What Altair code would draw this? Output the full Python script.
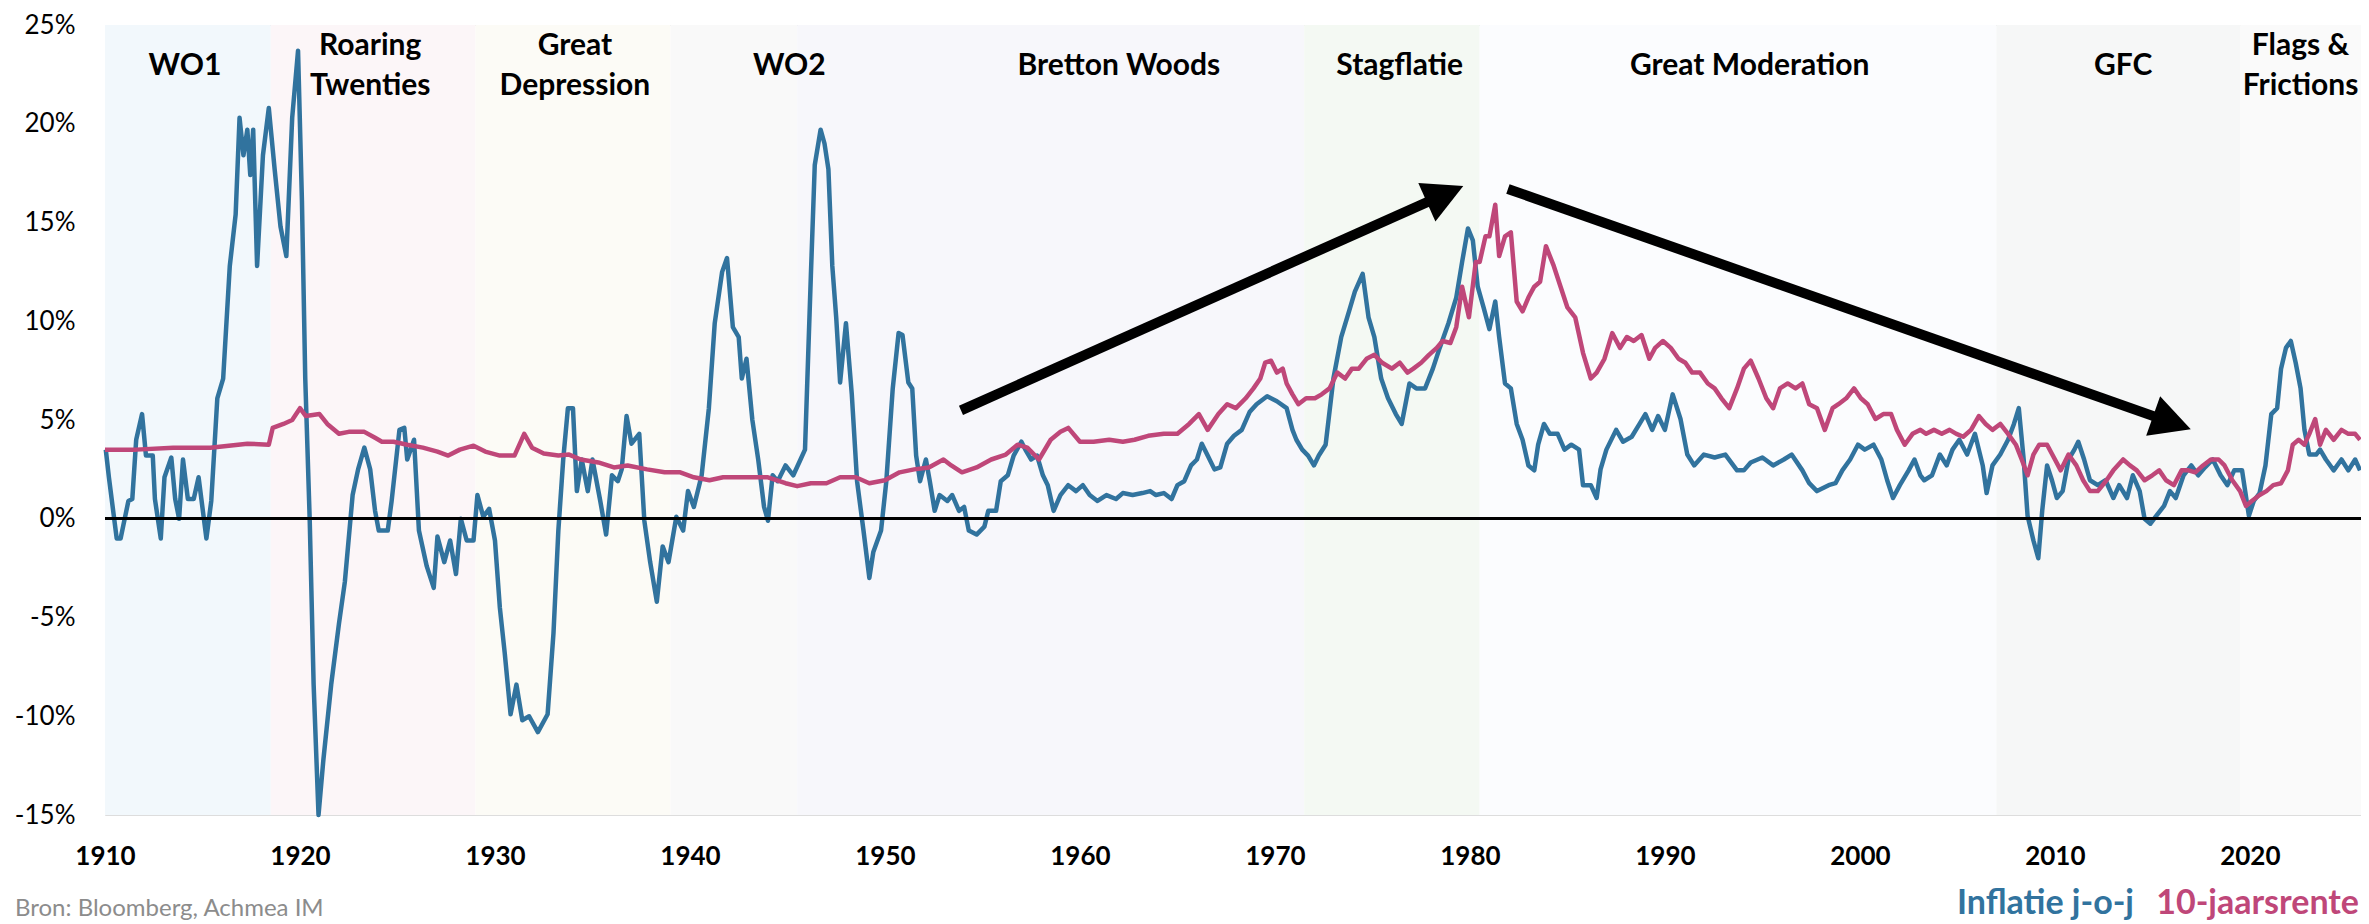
import math
import altair as alt
import pandas as pd

# ---------------- data ----------------
infl_year = [1910.04, 1910.2, 1910.6, 1910.8, 1911.2, 1911.4, 1911.6, 1911.9, 1912.1, 1912.45, 1912.56, 1912.86,
             1913.05, 1913.4, 1913.6, 1913.8, 1914.0, 1914.25, 1914.55, 1914.8, 1915.2, 1915.45, 1915.76, 1916.06,
             1916.4, 1916.7, 1916.9, 1917.1, 1917.3, 1917.45, 1917.6, 1917.8, 1918.1, 1918.4, 1918.7, 1919.0,
             1919.3, 1919.6, 1919.9, 1920.1, 1920.27, 1920.5, 1920.7, 1920.95, 1921.2, 1921.6, 1922.0, 1922.3,
             1922.7, 1922.98, 1923.3, 1923.6, 1923.85, 1924.04, 1924.5, 1924.7, 1925.1, 1925.35, 1925.5, 1925.85,
             1926.1, 1926.5, 1926.86, 1927.05, 1927.4, 1927.7, 1928.0, 1928.25, 1928.55, 1928.9, 1929.1, 1929.4,
             1929.7, 1930.0, 1930.25, 1930.5, 1930.8, 1931.1, 1931.4, 1931.75, 1932.2, 1932.7, 1933.0, 1933.25,
             1933.5, 1933.74, 1934.0, 1934.2, 1934.45, 1934.76, 1935.0, 1935.4, 1935.7, 1936.0, 1936.3, 1936.5,
             1936.75, 1937.0, 1937.4, 1937.66, 1937.96, 1938.3, 1938.6, 1938.9, 1939.3, 1939.65, 1939.9, 1940.2,
             1940.6, 1940.97, 1941.27, 1941.65, 1941.9, 1942.2, 1942.5, 1942.66, 1942.9, 1943.2, 1943.5, 1943.8,
             1944.0, 1944.24, 1944.5, 1944.9, 1945.3, 1945.67, 1945.9, 1946.2, 1946.4, 1946.7, 1946.9, 1947.1,
             1947.3, 1947.5, 1947.7, 1948.0, 1948.3, 1948.57, 1948.9, 1949.2, 1949.4, 1949.8, 1950.07, 1950.4,
             1950.7, 1950.9, 1951.2, 1951.4, 1951.6, 1951.8, 1952.1, 1952.3, 1952.55, 1952.8, 1953.2, 1953.45,
             1953.8, 1954.06, 1954.3, 1954.7, 1955.1, 1955.3, 1955.7, 1955.94, 1956.3, 1956.6, 1957.0, 1957.2,
             1957.5, 1957.8, 1958.1, 1958.35, 1958.65, 1959.0, 1959.4, 1959.8, 1960.15, 1960.5, 1960.9, 1961.36,
             1961.85, 1962.2, 1962.7, 1963.2, 1963.6, 1963.9, 1964.3, 1964.7, 1965.0, 1965.35, 1965.7, 1966.0,
             1966.25, 1966.55, 1966.9, 1967.2, 1967.55, 1967.9, 1968.3, 1968.7, 1969.06, 1969.6, 1970.1, 1970.6,
             1970.9, 1971.1, 1971.4, 1971.7, 1972.0, 1972.25, 1972.6, 1973.0, 1973.4, 1973.8, 1974.1, 1974.5,
             1974.8, 1975.1, 1975.45, 1975.8, 1976.2, 1976.5, 1976.9, 1977.25, 1977.7, 1978.1, 1978.45, 1978.9,
             1979.3, 1979.6, 1979.9, 1980.15, 1980.4, 1980.7, 1981.0, 1981.3, 1981.5, 1981.8, 1982.1, 1982.4,
             1982.7, 1983.0, 1983.3, 1983.5, 1983.8, 1984.1, 1984.5, 1984.85, 1985.2, 1985.6, 1985.8, 1986.2,
             1986.5, 1986.7, 1987.0, 1987.5, 1987.85, 1988.3, 1988.7, 1989.0, 1989.35, 1989.65, 1990.0, 1990.4,
             1990.8, 1991.15, 1991.5, 1992.0, 1992.55, 1993.1, 1993.7, 1994.05, 1994.4, 1995.0, 1995.55, 1996.1,
             1996.5, 1997.05, 1997.4, 1997.8, 1998.4, 1998.75, 1999.1, 1999.5, 1999.9, 2000.25, 2000.7, 2001.1,
             2001.4, 2001.7, 2002.05, 2002.5, 2002.8, 2003.1, 2003.3, 2003.7, 2004.1, 2004.45, 2004.75, 2005.1,
             2005.5, 2005.9, 2006.3, 2006.5, 2006.8, 2007.2, 2007.6, 2007.9, 2008.15, 2008.4, 2008.6, 2008.9,
             2009.15, 2009.35, 2009.6, 2009.85, 2010.1, 2010.4, 2010.7, 2011.0, 2011.2, 2011.5, 2011.8, 2012.2,
             2012.6, 2013.0, 2013.3, 2013.7, 2014.0, 2014.35, 2014.6, 2014.9, 2015.2, 2015.6, 2015.9, 2016.2,
             2016.6, 2017.0, 2017.35, 2017.7, 2018.1, 2018.5, 2018.85, 2019.2, 2019.6, 2019.95, 2020.2, 2020.5,
             2020.8, 2021.1, 2021.4, 2021.6, 2021.85, 2022.1, 2022.35, 2022.6, 2022.8, 2023.05, 2023.4, 2023.6,
             2023.9, 2024.3, 2024.7, 2025.05, 2025.4, 2025.65]
infl_val = [3.5, 2.1, -1.0, -1.0, 0.9, 1.0, 4.0, 5.3, 3.2, 3.2, 1.0, -1.0,
            2.1, 3.1, 1.0, 0.0, 3.0, 1.0, 1.0, 2.1, -1.0, 0.9, 6.1, 7.1,
            12.8, 15.4, 20.3, 18.4, 19.7, 17.4, 19.7, 12.8, 18.4, 20.8, 17.7, 14.8,
            13.3, 20.3, 23.7, 16.1, 7.1, -0.1, -8.4, -15.0, -12.2, -8.4, -5.3, -3.2,
            1.2, 2.5, 3.6, 2.5, 0.4, -0.6, -0.6, 0.9, 4.5, 4.6, 3.0, 4.0,
            -0.6, -2.4, -3.5, -0.9, -2.2, -1.1, -2.8, 0.0, -1.1, -1.1, 1.2, 0.1,
            0.5, -1.1, -4.5, -6.8, -9.9, -8.4, -10.2, -10.0, -10.8, -9.9, -5.8, -0.6,
            3.0, 5.6, 5.6, 1.4, 3.0, 1.4, 3.0, 0.9, -0.8, 2.2, 1.9, 2.5,
            5.2, 3.8, 4.3, -0.1, -2.2, -4.2, -1.4, -2.2, 0.1, -0.6, 1.4, 0.6,
            2.2, 5.6, 9.9, 12.5, 13.2, 9.7, 9.2, 7.1, 8.1, 5.0, 3.0, 0.6,
            -0.1, 2.2, 1.9, 2.7, 2.2, 3.0, 3.5, 12.3, 17.9, 19.7, 19.0, 17.7,
            12.8, 10.2, 6.9, 9.9, 6.3, 1.9, -0.6, -3.0, -1.7, -0.6, 1.9, 6.6,
            9.4, 9.3, 6.9, 6.6, 3.2, 1.9, 3.0, 1.9, 0.4, 1.2, 0.9, 1.2,
            0.4, 0.6, -0.6, -0.8, -0.4, 0.4, 0.4, 1.9, 2.2, 3.2, 3.9, 3.5,
            3.0, 3.2, 2.2, 1.7, 0.4, 1.2, 1.7, 1.4, 1.7, 1.2, 0.9, 1.2,
            1.0, 1.3, 1.2, 1.3, 1.4, 1.2, 1.3, 1.0, 1.7, 1.9, 2.7, 3.0,
            3.8, 3.2, 2.5, 2.6, 3.8, 4.2, 4.5, 5.4, 5.8, 6.2, 5.95, 5.6,
            4.5, 4.0, 3.5, 3.2, 2.7, 3.2, 3.75, 7.1, 9.2, 10.5, 11.5, 12.4,
            10.2, 9.2, 7.1, 6.1, 5.3, 4.8, 6.85, 6.6, 6.6, 7.6, 8.65, 9.9,
            11.2, 13.0, 14.7, 14.1, 11.75, 10.7, 9.6, 11.0, 9.2, 6.85, 6.6, 4.8,
            4.0, 2.7, 2.45, 3.75, 4.8, 4.3, 4.3, 3.5, 3.75, 3.5, 1.7, 1.7,
            1.05, 2.5, 3.5, 4.5, 3.9, 4.15, 4.8, 5.3, 4.5, 5.2, 4.5, 6.3,
            5.05, 3.25, 2.7, 3.25, 3.1, 3.25, 2.45, 2.45, 2.85, 3.1, 2.7, 3.0,
            3.25, 2.45, 1.8, 1.4, 1.7, 1.8, 2.45, 3.0, 3.75, 3.5, 3.75, 3.0,
            1.95, 1.05, 1.7, 2.45, 3.0, 2.2, 1.95, 2.2, 3.25, 2.7, 3.5, 4.0,
            3.25, 4.3, 2.7, 1.3, 2.7, 3.25, 4.0, 4.8, 5.6, 3.0, 0.15, -1.1,
            -2.0, 0.4, 2.7, 1.95, 1.05, 1.4, 3.0, 3.5, 3.9, 3.0, 1.95, 1.7,
            1.95, 1.05, 1.7, 1.05, 2.2, 1.4, 0.0, -0.25, 0.15, 0.65, 1.4, 1.05,
            2.2, 2.7, 2.2, 2.6, 3.0, 2.2, 1.7, 2.45, 2.45, 0.15, 0.9, 1.3,
            2.7, 5.3, 5.6, 7.6, 8.65, 9.0, 7.9, 6.6, 4.5, 3.25, 3.25, 3.5,
            3.0, 2.45, 3.0, 2.45, 3.0, 2.45]

rate_year = [1910.0, 1911.6, 1913.5, 1915.4, 1917.3, 1918.4, 1918.6, 1919.15, 1919.6, 1920.0, 1920.3, 1921.0,
             1921.4, 1922.0, 1922.5, 1923.3, 1923.85, 1924.2, 1924.8, 1925.5, 1926.3, 1927.05, 1927.6, 1928.2,
             1928.9, 1929.5, 1930.25, 1931.0, 1931.5, 1931.9, 1932.5, 1933.25, 1933.8, 1934.4, 1935.3, 1936.1,
             1936.8, 1937.8, 1938.7, 1939.5, 1940.2, 1941.0, 1941.7, 1942.85, 1944.0, 1944.9, 1945.5, 1946.2,
             1947.0, 1947.7, 1948.5, 1949.2, 1950.0, 1950.75, 1951.5, 1952.25, 1953.0, 1953.4, 1953.95, 1954.7,
             1955.45, 1956.2, 1956.8, 1957.3, 1957.9, 1958.5, 1959.0, 1959.4, 1960.0, 1960.7, 1961.5, 1962.2,
             1962.8, 1963.5, 1964.3, 1965.0, 1965.6, 1966.1, 1966.55, 1967.1, 1967.55, 1968.0, 1968.5, 1968.9,
             1969.25, 1969.5, 1969.8, 1970.1, 1970.4, 1970.6, 1970.9, 1971.2, 1971.6, 1972.05, 1972.4, 1972.8,
             1973.2, 1973.6, 1973.95, 1974.3, 1974.7, 1975.1, 1975.5, 1976.0, 1976.4, 1976.8, 1977.1, 1977.5,
             1977.9, 1978.3, 1978.6, 1979.0, 1979.3, 1979.6, 1979.95, 1980.3, 1980.5, 1980.8, 1981.0, 1981.3,
             1981.5, 1981.8, 1982.1, 1982.4, 1982.7, 1983.0, 1983.3, 1983.6, 1983.9, 1984.3, 1984.65, 1985.0,
             1985.4, 1985.8, 1986.2, 1986.5, 1986.9, 1987.3, 1987.7, 1988.05, 1988.4, 1988.8, 1989.2, 1989.5,
             1989.9, 1990.3, 1990.7, 1991.05, 1991.4, 1991.8, 1992.2, 1992.55, 1992.9, 1993.3, 1993.7, 1994.05,
             1994.4, 1994.8, 1995.2, 1995.55, 1995.9, 1996.3, 1996.7, 1997.05, 1997.4, 1997.8, 1998.2, 1998.6,
             1998.9, 1999.3, 1999.7, 2000.05, 2000.4, 2000.8, 2001.2, 2001.6, 2001.9, 2002.3, 2002.7, 2003.1,
             2003.4, 2003.8, 2004.2, 2004.6, 2004.95, 2005.3, 2005.7, 2006.1, 2006.45, 2006.8, 2007.2, 2007.6,
             2008.0, 2008.3, 2008.6, 2008.9, 2009.2, 2009.6, 2009.95, 2010.3, 2010.7, 2011.1, 2011.45, 2011.8,
             2012.2, 2012.65, 2013.0, 2013.5, 2013.85, 2014.2, 2014.6, 2015.0, 2015.35, 2015.7, 2016.1, 2016.5,
             2016.85, 2017.2, 2017.6, 2018.0, 2018.4, 2018.7, 2019.1, 2019.5, 2019.8, 2020.1, 2020.5, 2020.85,
             2021.2, 2021.6, 2021.95, 2022.2, 2022.5, 2022.8, 2023.05, 2023.35, 2023.6, 2023.9, 2024.3, 2024.7,
             2025.05, 2025.4, 2025.65]
rate_val = [3.5, 3.5, 3.6, 3.6, 3.8, 3.75, 4.6, 4.8, 5.0, 5.6, 5.2, 5.3,
            4.8, 4.3, 4.4, 4.4, 4.1, 3.9, 3.9, 3.75, 3.6, 3.4, 3.2, 3.5,
            3.7, 3.4, 3.2, 3.2, 4.3, 3.6, 3.3, 3.2, 3.25, 3.0, 2.85, 2.6,
            2.7, 2.5, 2.35, 2.35, 2.1, 1.95, 2.1, 2.1, 2.1, 1.8, 1.65, 1.8,
            1.8, 2.1, 2.1, 1.8, 1.95, 2.35, 2.5, 2.6, 3.0, 2.7, 2.35, 2.6,
            3.0, 3.25, 3.75, 3.6, 3.0, 4.0, 4.4, 4.6, 3.9, 3.9, 4.0, 3.9,
            4.0, 4.2, 4.3, 4.3, 4.8, 5.3, 4.5, 5.3, 5.8, 5.6, 6.1, 6.6,
            7.1, 7.9, 8.0, 7.4, 7.6, 6.85, 6.3, 5.8, 6.1, 6.1, 6.3, 6.6,
            7.4, 7.1, 7.6, 7.6, 8.1, 8.3, 7.9, 7.6, 7.9, 7.4, 7.6, 7.9,
            8.3, 8.65, 9.0, 8.9, 9.7, 11.75, 10.2, 13.0, 13.0, 14.3, 14.3, 15.9,
            13.3, 14.3, 14.5, 11.0, 10.5, 11.2, 11.75, 12.0, 13.8, 12.8, 11.75, 10.7,
            10.2, 8.4, 7.1, 7.4, 8.1, 9.4, 8.65, 9.2, 9.0, 9.3, 8.1, 8.65,
            9.0, 8.65, 8.1, 7.9, 7.4, 7.4, 6.85, 6.6, 6.1, 5.6, 6.6, 7.6,
            8.0, 7.1, 6.1, 5.6, 6.6, 6.85, 6.6, 6.85, 5.8, 5.6, 4.5, 5.6,
            5.8, 6.1, 6.6, 6.1, 5.8, 5.05, 5.3, 5.3, 4.5, 3.75, 4.3, 4.5,
            4.3, 4.5, 4.3, 4.5, 4.3, 4.15, 4.5, 5.2, 4.8, 4.5, 4.8, 4.3,
            3.75, 3.0, 2.2, 3.25, 3.75, 3.75, 3.1, 2.45, 3.25, 2.7, 1.95, 1.4,
            1.4, 1.95, 2.45, 3.0, 2.7, 2.45, 1.95, 2.2, 2.45, 1.95, 1.7, 2.45,
            2.45, 2.35, 2.7, 3.0, 3.0, 2.7, 1.95, 1.4, 0.65, 0.9, 1.2, 1.4,
            1.7, 1.8, 2.45, 3.75, 4.0, 3.75, 4.3, 5.05, 3.75, 4.5, 4.0, 4.5,
            4.3, 4.3, 4.0]

periods = ["WO1", "Roaring\nTwenties", "Great\nDepression", "WO2", "Bretton Woods",
           "Stagflatie", "Great Moderation", "GFC", "Flags &\nFrictions"]
period_mid = [1914.1, 1923.6, 1934.1, 1945.1, 1962.0, 1976.4, 1994.35, 2013.5, 2022.6]
band_start = [1910.0, 1918.5, 1929.0, 1939.0, 1945.5, 1971.5, 1980.5, 2007.0, 2019.5]
band_end = [1918.5, 1929.0, 1939.0, 1945.5, 1971.5, 1980.5, 2007.0, 2019.5, 2025.7]
band_color = ["#F2F8FC", "#FCF6F8", "#FCFBF6", "#F9F9F9", "#F7F7FB",
              "#F4F9F3", "#FBFCFE", "#F6F7F7", "#FAFAFA"]

arrow_x0 = [1953.9, 1981.95]
arrow_y0 = [5.49, 16.7]
arrow_x1 = [1979.66, 2016.97]
arrow_y1 = [16.85, 4.53]

x_ticks = list(range(1910, 2030, 10))
y_ticks = list(range(-15, 30, 5))

BLUE = "#31739E"
PINK = "#BF4779"
FONT = "Lato"

# ---------------- layout ----------------
W, H = 2256, 790
XMIN, XMAX = 1910.0, 2025.7
YMIN, YMAX = -15.0, 25.0

xs = alt.Scale(domain=[XMIN, XMAX], nice=False, zero=False)
ys = alt.Scale(domain=[YMIN, YMAX], nice=False, zero=False)

lines_df = pd.concat([
    pd.DataFrame({"year": infl_year, "val": infl_val, "series": "Inflatie j-o-j"}),
    pd.DataFrame({"year": rate_year, "val": rate_val, "series": "10-jaarsrente"}),
])

bands_df = pd.DataFrame({"s": band_start, "e": band_end, "c": band_color})

# label block: single lines centred at 22.9 %, two-line blocks start a bit higher
labels_df = pd.DataFrame({"label": periods, "mid": period_mid})
labels_df["ly"] = [22.9 + 1.05 * (lbl.count("\n")) for lbl in periods]

# arrows: shaft ends a little before the tip so the head stays sharp
ppy = W / (XMAX - XMIN)
ppp = H / (YMAX - YMIN)
rows = []
for x0, y0, x1, y1 in zip(arrow_x0, arrow_y0, arrow_x1, arrow_y1):
    dxp = (x1 - x0) * ppy
    dyp = -(y1 - y0) * ppp
    L = math.hypot(dxp, dyp)
    ux, uy = dxp / L, dyp / L
    ang = math.degrees(math.atan2(ux, -uy)) % 360
    back = 26
    rows.append({"x0": x0, "y0": y0, "x1": x1, "y1": y1,
                 "xe": x1 - back * ux / ppy, "ye": y1 + back * uy / ppp, "ang": ang})
arrows_df = pd.DataFrame(rows)

bands = alt.Chart(bands_df).mark_rect(opacity=1).encode(
    x=alt.X("s:Q", scale=xs),
    x2="e:Q",
    y=alt.datum(YMAX, scale=ys),
    y2=alt.datum(YMIN),
    color=alt.Color("c:N", scale=None),
)

lines = alt.Chart(lines_df).mark_line(strokeWidth=4.5, strokeJoin="round").encode(
    x=alt.X("year:Q", scale=xs,
            axis=alt.Axis(values=x_ticks, format="d", title=None, grid=False, domain=False,
                          ticks=False, tickSize=0, labelFlush=False, labelOverlap=False,
                          labelFont=FONT, labelFontSize=26, labelFontWeight="bold",
                          labelColor="black", labelPadding=28)),
    y=alt.Y("val:Q", scale=ys,
            axis=alt.Axis(values=y_ticks, labelExpr="datum.value + '%'", title=None, grid=False,
                          domain=False, ticks=False, tickSize=0, labelFlush=False,
                          labelFont=FONT, labelFontSize=26, labelColor="black", labelPadding=30)),
    color=alt.Color("series:N", scale=alt.Scale(domain=["Inflatie j-o-j", "10-jaarsrente"],
                                                range=[BLUE, PINK]), legend=None),
    detail="series:N",
)

zero = alt.Chart(bands_df).mark_rule(color="black", strokeWidth=2.5).encode(
    y=alt.datum(0, scale=ys),
)

shafts = alt.Chart(arrows_df).mark_rule(color="black", strokeWidth=10, strokeCap="butt").encode(
    x=alt.X("x0:Q", scale=xs), y=alt.Y("y0:Q", scale=ys), x2="xe:Q", y2="ye:Q",
)

heads = alt.Chart(arrows_df).mark_point(
    shape="M0,0L-1,1.9L1,1.9Z", filled=True, color="black", opacity=1, size=1764, strokeWidth=0
).encode(
    x=alt.X("x1:Q", scale=xs), y=alt.Y("y1:Q", scale=ys),
    angle=alt.Angle("ang:Q", scale=None),
)

period_text = alt.Chart(labels_df).mark_text(
    font=FONT, fontSize=30, fontWeight="bold", color="black", align="center",
    baseline="middle", lineBreak="\n", lineHeight=40
).encode(
    x=alt.X("mid:Q", scale=xs),
    y=alt.Y("ly:Q", scale=ys),
    text="label:N",
)

legend_df = pd.DataFrame({"t": ["Inflatie j-o-j", "10-jaarsrente"], "c": [BLUE, PINK],
                          "px": [2029, 2254]})
legend_text = alt.Chart(legend_df).mark_text(
    font=FONT, fontSize=34, fontWeight="bold", align="right", baseline="alphabetic"
).encode(
    x=alt.X("px:Q", scale=None),
    y=alt.value(889),
    text="t:N",
    color=alt.Color("c:N", scale=None),
)

source_text = alt.Chart(pd.DataFrame({"t": ["Bron: Bloomberg, Achmea IM"]})).mark_text(
    font=FONT, fontSize=24, color="#8C8C8C", align="left", baseline="alphabetic"
).encode(
    x=alt.value(-90), y=alt.value(891), text="t:N",
)

chart = alt.layer(
    bands, lines, zero, shafts, heads, period_text, legend_text, source_text
).properties(
    width=W, height=H,
    autosize=alt.AutoSizeParams(type="none"),
    padding={"left": 97, "top": 17, "right": 0, "bottom": 109},
    background="white",
).configure_view(stroke=None).configure(font=FONT)

chart.save("out.html", embed_options={"renderer": "svg", "actions": False})
